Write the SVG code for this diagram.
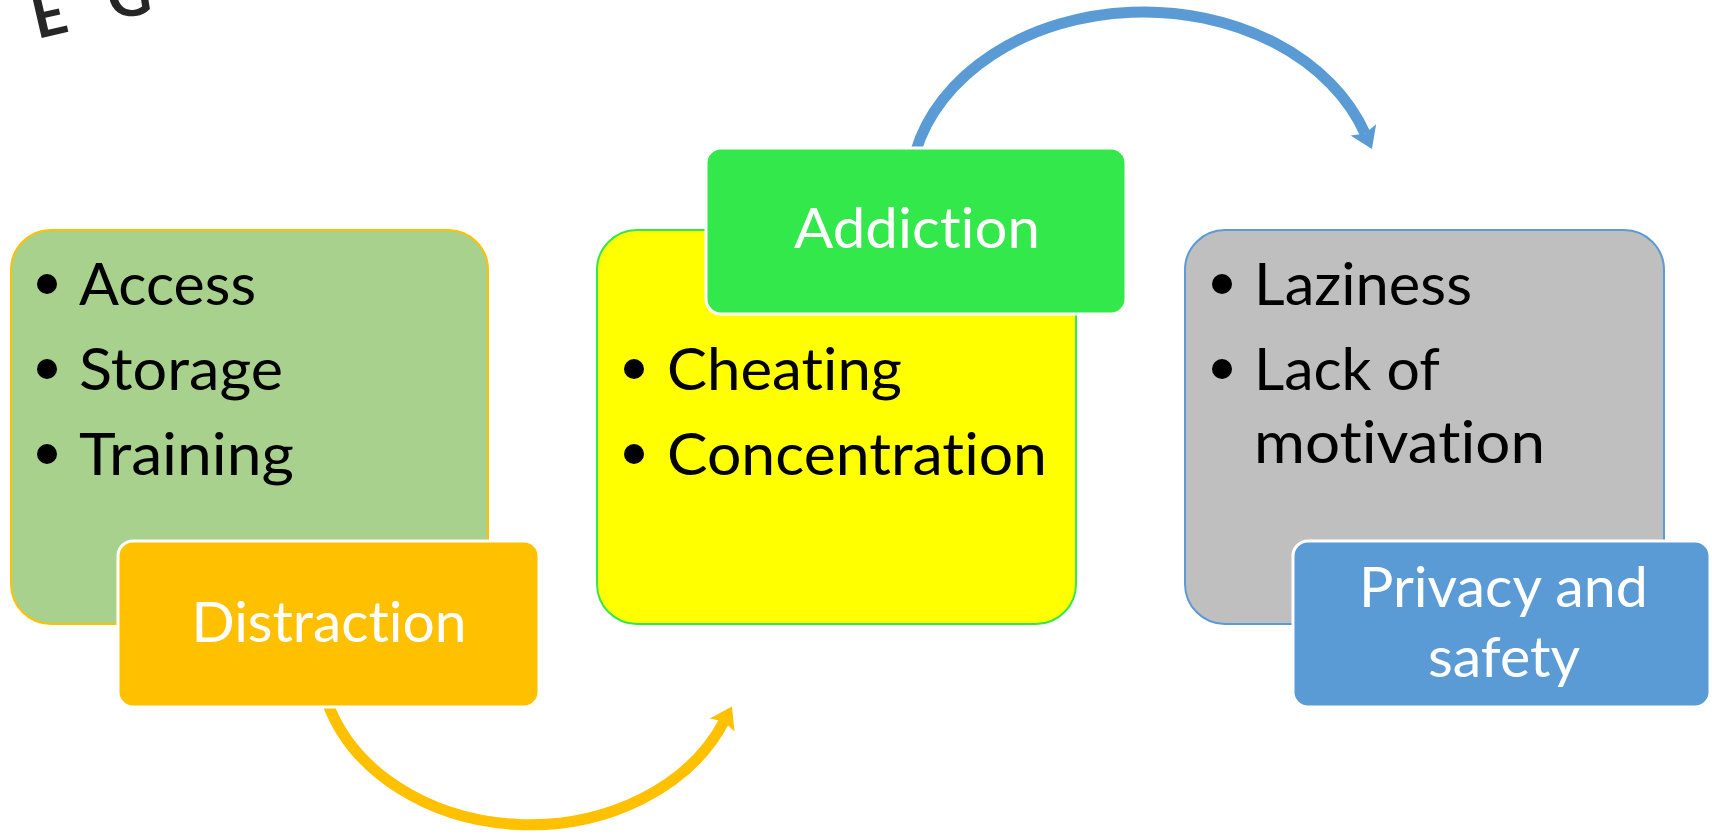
<svg xmlns="http://www.w3.org/2000/svg" width="1712" height="834" viewBox="0 0 1712 834">
<style>
text{font-variant-ligatures:none;font-feature-settings:"liga" 0,"clig" 0}
.t{font-family:Lato,'Noto Sans',sans-serif;font-size:59px;fill:#000}
.w{font-family:Lato,'Noto Sans',sans-serif;font-size:56px;fill:#fff;text-anchor:middle}
.g{font-family:Lato,'Noto Sans',sans-serif;font-size:60px;font-weight:bold;fill:#262626}
.dot{fill:#000}
.arc{fill:none;stroke-width:11;stroke-linecap:butt}
</style>
<defs>
<marker id="hb" markerUnits="userSpaceOnUse" markerWidth="22" markerHeight="30" refX="4" refY="14" orient="auto" overflow="visible">
<path d="M0,0 L21,14 L0,28 L4,14 Z" fill="#5B9BD5"/>
</marker>
<marker id="hy" markerUnits="userSpaceOnUse" markerWidth="22" markerHeight="30" refX="4" refY="14" orient="auto" overflow="visible">
<path d="M0,0 L21,14 L0,28 L4,14 Z" fill="#FFC000"/>
</marker>
<filter id="soft"><feGaussianBlur stdDeviation="0.7"/></filter>
</defs>
<rect width="1712" height="834" fill="#fff"/>
<g id="curved-text" filter="url(#soft)">
<text class="g" transform="translate(37,39) rotate(-13)">E</text>
<text class="g" font-size="55" text-anchor="middle" transform="translate(132,16) rotate(-9)">G</text>
</g>
<g id="connectors">
<path class="arc" d="M915.5,152 A234,180 0 0 1 1365,133.5" stroke="#5B9BD5" marker-end="url(#hb)"/>
<path class="arc" d="M327.6,703 A211,170 0 0 0 724,721.5" stroke="#FFC000" marker-end="url(#hy)"/>
</g>
<g id="node-green">
<rect x="11" y="230" width="477" height="394" rx="40" fill="#A9D18E" stroke="#FFC000" stroke-width="2"/>
<circle class="dot" cx="47" cy="284" r="10"/>
<circle class="dot" cx="47" cy="369" r="10"/>
<circle class="dot" cx="47" cy="454" r="10"/>
<text class="t" x="79" y="305" textLength="177" lengthAdjust="spacingAndGlyphs">Access</text>
<text class="t" x="79" y="390" textLength="204" lengthAdjust="spacingAndGlyphs">Storage</text>
<text class="t" x="79" y="475" textLength="215" lengthAdjust="spacingAndGlyphs">Training</text>
</g>
<g id="node-distraction">
<rect x="118" y="541" width="421" height="166" rx="15" fill="#FFC000" stroke="#fff" stroke-width="3"/>
<text class="w" x="329" y="642" textLength="275" lengthAdjust="spacingAndGlyphs">Distraction</text>
</g>
<g id="node-yellow">
<rect x="597" y="230" width="479" height="394" rx="40" fill="#FFFF00" stroke="#32E84A" stroke-width="2"/>
<circle class="dot" cx="634" cy="369" r="10"/>
<circle class="dot" cx="634" cy="454" r="10"/>
<text class="t" x="667" y="390" textLength="235" lengthAdjust="spacingAndGlyphs">Cheating</text>
<text class="t" x="667" y="475" textLength="380" lengthAdjust="spacingAndGlyphs">Concentration</text>
</g>
<g id="node-addiction">
<rect x="706" y="148" width="420" height="166" rx="15" fill="#32E84A" stroke="#fff" stroke-width="3"/>
<text class="w" x="917" y="248" textLength="246" lengthAdjust="spacingAndGlyphs">Addiction</text>
</g>
<g id="node-gray">
<rect x="1185" y="230" width="479" height="394" rx="40" fill="#BFBFBF" stroke="#5B9BD5" stroke-width="2"/>
<circle class="dot" cx="1222" cy="284" r="10"/>
<circle class="dot" cx="1222" cy="369" r="10"/>
<text class="t" x="1254" y="305" textLength="218" lengthAdjust="spacingAndGlyphs">Laziness</text>
<text class="t" x="1254" y="390" textLength="186" lengthAdjust="spacingAndGlyphs">Lack of</text>
<text class="t" x="1254" y="463" textLength="291" lengthAdjust="spacingAndGlyphs">motivation</text>
</g>
<g id="node-privacy">
<rect x="1293" y="541" width="417" height="166" rx="15" fill="#5B9BD5" stroke="#fff" stroke-width="3"/>
<text class="w" x="1503.5" y="607" textLength="289" lengthAdjust="spacingAndGlyphs">Privacy and</text>
<text class="w" x="1504" y="677" textLength="152" lengthAdjust="spacingAndGlyphs">safety</text>
</g>
</svg>
